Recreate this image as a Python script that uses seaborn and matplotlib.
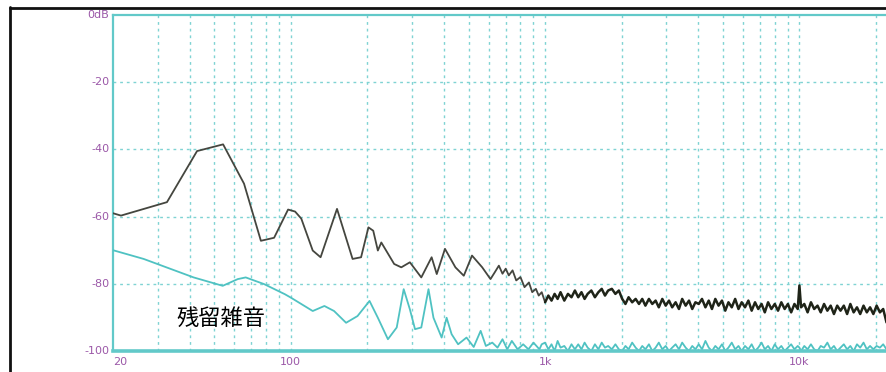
import numpy as np
import pandas as pd
import matplotlib
matplotlib.use("Agg")
import matplotlib.pyplot as plt
from matplotlib.lines import Line2D
import seaborn as sns

# ---- measured spectra (frequency in Hz, level in dB) ----
# upper trace, low-frequency part
freq_lo_upper = [20, 21.5, 32.6, 42.8, 54.2, 65.5, 76.3, 86, 97.6, 104, 110, 122, 131,
                 152, 175, 189, 202, 211, 220, 227, 255, 272, 294, 326, 358, 375, 404,
                 444, 479, 516, 566, 610, 635, 658, 680, 700, 720, 745, 770, 800, 830,
                 864, 890, 920, 944, 970, 1000]
level_lo_upper = [-59.0, -59.7, -55.7, -40.5, -38.5, -50.2, -67.2, -66.3, -57.9, -58.5,
                  -60.6, -70.1, -72.1, -57.7, -72.6, -72.1, -63.2, -64.2, -70.1, -67.7,
                  -74.1, -75.1, -73.6, -78.1, -72.1, -77.1, -69.6, -75.1, -77.6, -71.6,
                  -75.1, -78.6, -76.5, -74.6, -77.0, -75.5, -77.5, -76.0, -79.0, -78.0,
                  -81.0, -79.6, -82.5, -81.5, -83.5, -82.5, -85.5]

# residual noise trace, low-frequency part
freq_lo_noise = [20, 26.4, 41.5, 54, 61.9, 66.5, 78.6, 94.8, 100, 110, 122, 135.6, 148,
                 165, 183, 204, 220, 241, 261, 278, 294, 308, 326, 348, 364, 392, 410,
                 429, 455, 491, 524, 558, 585, 620, 650, 680, 710, 740, 780, 820, 860,
                 900, 950, 970]
level_lo_noise = [-70.0, -72.6, -78.1, -80.6, -78.6, -78.1, -80.1, -83.1, -84.1, -86.0,
                  -88.1, -86.6, -88.1, -91.6, -89.6, -85.1, -90.1, -96.5, -93.0, -81.6,
                  -87.6, -93.5, -93.0, -81.6, -90.1, -96.0, -90.1, -95.0, -98.0, -96.0,
                  -98.8, -94.0, -98.5, -97.5, -99.0, -96.5, -99.5, -97.0, -99.5, -98.0,
                  -99.5, -97.5, -99.5, -98.0]

# shared high-frequency bins
freq_hf = [1000, 1030, 1060, 1090, 1120, 1150, 1190, 1230, 1270, 1310,
           1350, 1390, 1430, 1470, 1520, 1570, 1620, 1670, 1720, 1770,
           1830, 1890, 1950, 2010, 2070, 2130, 2200, 2270, 2340, 2410,
           2480, 2560, 2640, 2720, 2800, 2890, 2980, 3070, 3160, 3260,
           3360, 3460, 3570, 3680, 3790, 3900, 4020, 4140, 4270, 4400,
           4530, 4670, 4810, 4960, 5110, 5260, 5420, 5590, 5760, 5930,
           6110, 6300, 6490, 6690, 6890, 7100, 7310, 7530, 7760, 8000,
           8240, 8490, 8750, 9010, 9280, 9560, 9850, 10000, 10150, 10450,
           10770, 11100, 11430, 11780, 12130, 12500, 12880, 13270, 13670, 14080,
           14510, 14950, 15400, 15860, 16340, 16840, 17340, 17870, 18410, 18960,
           19530, 20120, 20730, 21350, 22000]
level_hf_upper = [-85.5, -83.5, -85.0, -83.0, -84.5, -82.5, -85.0, -83.0, -84.0, -82.0,
                  -84.0, -82.5, -84.5, -83.0, -82.0, -84.0, -82.5, -81.5, -83.5, -82.0,
                  -81.5, -83.0, -82.0, -84.5, -86.0, -84.0, -85.5, -84.5, -86.0, -84.5,
                  -86.5, -84.5, -86.0, -85.0, -87.0, -84.5, -86.5, -85.0, -87.0, -85.5,
                  -87.5, -84.5, -86.5, -85.0, -87.5, -85.5, -86.0, -84.5, -87.0, -85.0,
                  -87.5, -84.5, -86.5, -85.0, -88.0, -85.5, -87.0, -84.5, -87.5, -85.5,
                  -87.0, -85.0, -88.0, -85.5, -87.5, -86.0, -88.5, -85.5, -87.5, -86.0,
                  -88.0, -85.5, -87.5, -86.0, -88.5, -86.0, -87.5, -80.5, -87.0, -86.0,
                  -88.5, -85.5, -87.5, -86.5, -88.5, -86.0, -88.0, -86.5, -89.0, -86.5,
                  -88.0, -86.5, -89.0, -86.0, -88.5, -87.0, -89.0, -86.5, -88.5, -87.0,
                  -89.0, -86.5, -88.5, -87.5, -91.5]
level_hf_noise = [-97.5, -99.5, -98.0, -100.0, -97.0, -99.0, -98.5, -100.0, -98.0, -99.5,
                  -98.0, -99.5, -97.5, -99.0, -100.0, -98.0, -99.5, -97.5, -99.0, -98.5,
                  -99.5, -98.0, -99.5, -100.0, -98.5, -99.5, -97.5, -99.0, -100.0, -98.5,
                  -99.5, -98.0, -100.0, -99.0, -97.5, -99.5, -98.5, -100.0, -99.0, -98.0,
                  -99.5, -97.5, -99.0, -100.0, -98.5, -99.5, -98.0, -99.5, -97.0, -99.0,
                  -100.0, -98.5, -99.5, -98.0, -100.0, -99.0, -97.5, -99.5, -98.5, -100.0,
                  -98.5, -99.5, -98.0, -100.0, -99.0, -97.5, -99.5, -98.5, -100.0, -98.0,
                  -99.5, -98.5, -100.0, -99.0, -98.0, -99.5, -98.5, -99.0, -100.0, -98.5,
                  -99.5, -98.0, -99.5, -100.0, -98.5, -99.0, -97.5, -99.5, -98.5, -100.0,
                  -99.0, -98.0, -99.5, -98.5, -100.0, -98.0, -99.0, -97.5, -99.5, -98.5,
                  -99.5, -98.5, -99.0, -98.0, -99.5]

y_ticks = [0, -20, -40, -60, -80, -100]
y_tick_labels = ["0dB", "-20", "-40", "-60", "-80", "-100"]
x_ticks = [20, 100, 1000, 10000]
x_tick_labels = ["20", "100", "1k", "10k"]
caption = "残留雑音"

# ---- build frames ----
upper_lo = pd.DataFrame({"freq": freq_lo_upper, "level": level_lo_upper})
upper_hf = pd.DataFrame({"freq": freq_hf, "level": level_hf_upper})
noise = pd.DataFrame({"freq": freq_lo_noise + freq_hf,
                      "level": level_lo_noise + level_hf_noise})

sns.set_style("white")
plt.rcParams["font.family"] = ["DejaVu Sans"]

W, H = 887, 372
fig = plt.figure(figsize=(W / 100, H / 100), dpi=100)
fig.patch.set_facecolor("white")

ax_l, ax_r, ax_t, ax_b = 113, 887, 15, 351
ax = fig.add_axes([ax_l / W, (H - ax_b) / H, (ax_r - ax_l) / W, (ax_b - ax_t) / H])
ax.set_facecolor("white")

grid_c = "#7fd3d3"
axis_c = "#62c9c9"
label_c = "#9b58a8"

ax.set_xscale("log")
ax.set_xlim(20, 22100)
ax.set_ylim(-100, 0)

# dotted grid: every decade step plus horizontal 20 dB steps
v_lines = []
for dec in [10, 100, 1000, 10000]:
    for m in range(1, 10):
        f = m * dec
        if 20 < f < 22100:
            v_lines.append(f)
for f in v_lines:
    ax.axvline(f, color=grid_c, lw=1.0, ls=(0, (2.0, 2.8)), zorder=1)
for y in [-20, -40, -60, -80]:
    ax.axhline(y, color=grid_c, lw=1.0, ls=(0, (2.0, 2.8)), zorder=1)

sns.lineplot(data=noise, x="freq", y="level", ax=ax, color="#4fc2c2", lw=1.3,
             estimator=None, sort=False, zorder=3)
sns.lineplot(data=upper_lo, x="freq", y="level", ax=ax, color="#45463f", lw=1.3,
             estimator=None, sort=False, zorder=4)
sns.lineplot(data=upper_hf, x="freq", y="level", ax=ax, color="#1f2418", lw=1.8,
             estimator=None, sort=False, zorder=4)

# spines
ax.spines["right"].set_visible(False)
ax.spines["left"].set_color(axis_c)
ax.spines["left"].set_linewidth(1.6)
ax.spines["top"].set_color(axis_c)
ax.spines["top"].set_linewidth(1.6)
ax.spines["bottom"].set_color(axis_c)
ax.spines["bottom"].set_linewidth(2.6)
ax.spines["bottom"].set_zorder(5)

ax.set_xlabel("")
ax.set_ylabel("")
ax.set_xticks([])
ax.set_yticks([])
ax.minorticks_off()

# tick labels
for y, lab in zip(y_ticks, y_tick_labels):
    ax.text(-0.005, (y + 100) / 100, lab, transform=ax.transAxes, ha="right",
            va="center", fontsize=8, color=label_c)
for x, lab in zip(x_ticks, x_tick_labels):
    ax.annotate(lab, xy=(x, -100), xytext=(0, -4), textcoords="offset points",
                ha="left" if x == 20 else "center", va="top", fontsize=8,
                color=label_c, annotation_clip=False)

ax.text(0.1395, 0.098, caption, transform=ax.transAxes, ha="center", va="center",
        fontsize=16, color="black",
        family=["Noto Sans CJK JP", "DejaVu Sans"])

# outer frame
fig.add_artist(Line2D([10.5 / W, 10.5 / W], [0, (H - 7) / H], color="#111111", lw=2.0))
fig.add_artist(Line2D([10 / W, 1.0], [(H - 7.5) / H, (H - 7.5) / H], color="#111111", lw=2.0))

fig.savefig("out.png", dpi=100, facecolor="white")
